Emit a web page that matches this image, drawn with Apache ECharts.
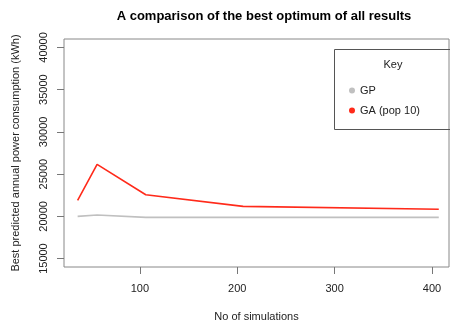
<!DOCTYPE html>
<html lang="en">
    <head>
        <meta charset="utf-8">
        <title>A comparison of the best optimum of all results</title>
    </head>
    <body style="margin:0">
        <div id="echart" style="width: 450px; height: 327px;"></div>
        <script src="https://cdn.jsdelivr.net/npm/echarts@6/dist/echarts.min.js"></script>
        <script>
            let simulations = [36, 56, 106, 206, 407];
            let gpValues = [20000, 20150, 19880, 19880, 19880];
            let gaValues = [21890, 26150, 22560, 21180, 20830];
            let xTicks = [100, 200, 300, 400];
            let yTicks = [15000, 20000, 25000, 30000, 35000, 40000];

            let toPairs = (xs, ys) => xs.map((x, i) => [x, ys[i]]);

            let myChart = echarts.init(document.getElementById('echart'));
            let font = 'Liberation Sans, Arial, sans-serif';
            let option = {
                animation: false,
                title: {
                    text: 'A comparison of the best optimum of all results',
                    left: 259,
                    textAlign: 'center',
                    top: 5,
                    textStyle: {fontSize: 13, fontWeight: 'bold', color: '#000', fontFamily: font}
                },
                grid: {
                    left: 64, right: 1, top: 39, bottom: 60,
                    show: true, borderColor: '#888', borderWidth: 1
                },
                legend: {
                    orient: 'vertical',
                    left: 344,
                    top: 80,
                    icon: 'circle',
                    itemWidth: 6,
                    itemHeight: 6,
                    itemGap: 9,
                    textStyle: {fontSize: 11, color: '#222', fontFamily: font},
                    data: ['GP', 'GA (pop 10)']
                },
                graphic: [
                    {type: 'rect', shape: {x: 334.5, y: 49.5, width: 130, height: 80},
                     style: {fill: 'none', stroke: '#555', lineWidth: 1}},
                    {type: 'text', x: 393, y: 65,
                     style: {text: 'Key', fill: '#222', font: '11px ' + font, align: 'center', verticalAlign: 'middle'}}
                ],
                xAxis: {
                    type: 'value',
                    min: 22,
                    max: 417.5,
                    name: 'No of simulations',
                    nameLocation: 'middle',
                    nameGap: 44,
                    nameTextStyle: {fontSize: 11, color: '#222', fontFamily: font},
                    axisLine: {show: false},
                    splitLine: {show: false},
                    axisTick: {show: true, length: 7, customValues: xTicks, lineStyle: {color: '#777'}},
                    axisLabel: {customValues: xTicks, margin: 16, fontSize: 11, color: '#222', fontFamily: font}
                },
                yAxis: {
                    type: 'value',
                    min: 14000,
                    max: 41000,
                    name: 'Best predicted annual power consumption (kWh)',
                    nameLocation: 'middle',
                    nameGap: 43,
                    nameTextStyle: {fontSize: 11, color: '#222', fontFamily: font},
                    axisLine: {show: false},
                    splitLine: {show: false},
                    axisTick: {show: true, length: 7, customValues: yTicks, lineStyle: {color: '#777'}},
                    axisLabel: {
                        customValues: yTicks, rotate: 90, margin: 15,
                        fontSize: 11, color: '#222', fontFamily: font,
                        formatter: (v) => String(v)
                    }
                },
                series: [
                    {
                        name: 'GP',
                        type: 'line',
                        data: toPairs(simulations, gpValues),
                        showSymbol: false,
                        symbol: 'circle',
                        itemStyle: {color: '#c0c0c0'},
                        lineStyle: {color: '#c0c0c0', width: 1.6}
                    },
                    {
                        name: 'GA (pop 10)',
                        type: 'line',
                        data: toPairs(simulations, gaValues),
                        showSymbol: false,
                        symbol: 'circle',
                        itemStyle: {color: '#ff2a1a'},
                        lineStyle: {color: '#ff2a1a', width: 1.6}
                    }
                ]
            };
            myChart.setOption(option);
        </script>
    </body>
</html>
